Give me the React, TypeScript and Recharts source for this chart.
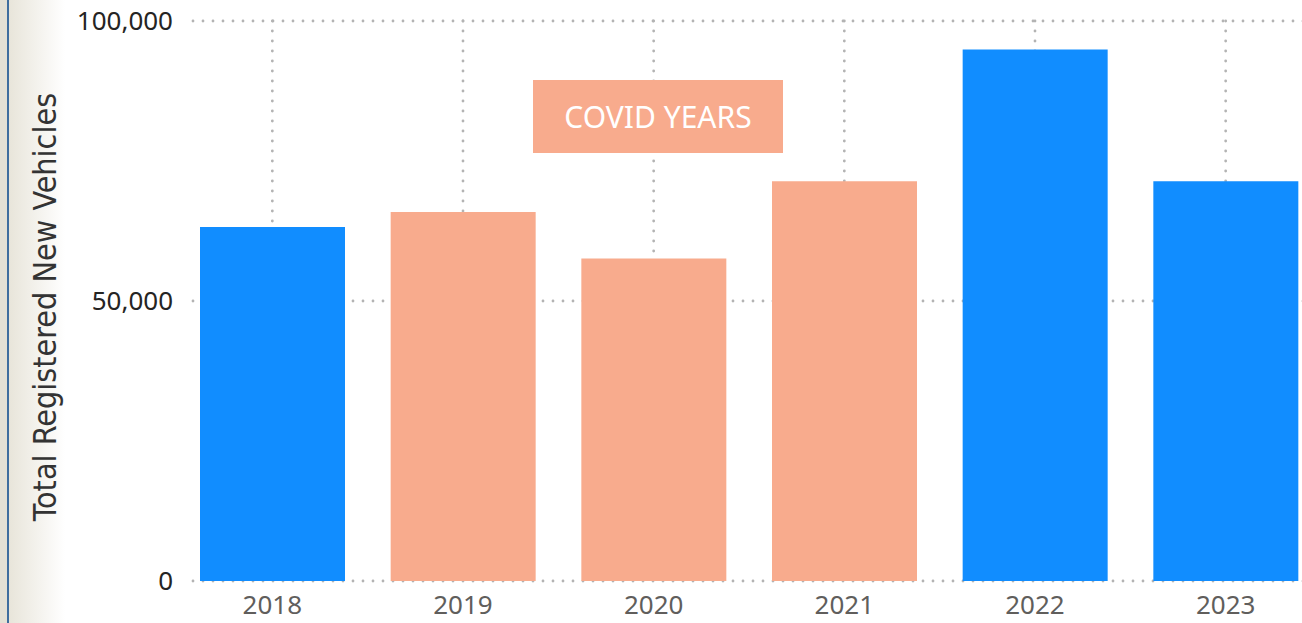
import React from "react";
import { BarChart, Bar, XAxis, YAxis, CartesianGrid, Cell } from "recharts";

const years = ["2018", "2019", "2020", "2021", "2022", "2023"];
const registrations = [63200, 65900, 57600, 71400, 94900, 71400];
const covidYears = ["2019", "2020", "2021"];
const yTicks = [0, 50000, 100000];

const data = years.map((year, i) => ({ year, total: registrations[i] }));

const BLUE = "#118DFF";
const SALMON = "#F8AB8D";
const FONT = "'Noto Sans', 'Open Sans', sans-serif";
const GRID = { stroke: "#B3B3B3", strokeWidth: 2.8, strokeDasharray: "0 10", strokeLinecap: "round" as const };

const AxisTitle = () => (
  <text
    x={45}
    y={307}
    transform="rotate(-90 45 307)"
    textAnchor="middle"
    dominantBaseline="central"
    fill="#333333"
    fontSize={32}
    fontWeight={500}
    fontFamily="'DejaVu Sans Condensed', 'DejaVu Sans', sans-serif"
  >
    Total Registered New Vehicles
  </text>
);

// vertical grid lines only at the centre of each year band
const centreLines = ({ offset }: any) => {
  const band = offset.width / years.length;
  return years.map((_, i) => offset.left + band * (i + 0.5));
};

export default function App() {
  return (
    <div
      style={{
        position: "absolute",
        left: 0,
        top: 0,
        width: 1302,
        height: 623,
        overflow: "hidden",
        background: "#fff",
        fontFamily: FONT,
      }}
    >
      {/* window frame strip on the left */}
      <div style={{ position: "absolute", left: 0, top: 0, width: 7, height: 623, background: "#E4E1D5" }} />
      <div style={{ position: "absolute", left: 7, top: 0, width: 2, height: 623, background: "#3F6E9E" }} />
      <div
        style={{
          position: "absolute",
          left: 9,
          top: 0,
          width: 56,
          height: 623,
          background: "linear-gradient(to right, #E8E5DA, #ffffff)",
        }}
      />
      <div style={{ position: "absolute", left: 0, top: 0 }}>
        <BarChart
          width={1326}
          height={623}
          data={data}
          margin={{ top: 21, right: 5, bottom: 0, left: 77 }}
          barSize={145}
        >
          <CartesianGrid
            horizontal={false}
            vertical
            verticalCoordinatesGenerator={centreLines}
            {...GRID}
          />
          <CartesianGrid vertical={false} horizontal x={193} width={1133} {...GRID} />
          <XAxis
            dataKey="year"
            axisLine={false}
            tickLine={false}
            tickSize={0}
            tickMargin={15}
            height={42}
            tick={{ fill: "#605E5C", fontSize: 26, fontFamily: FONT }}
          />
          <YAxis
            width={100}
            domain={[0, 100000]}
            ticks={yTicks}
            axisLine={false}
            tickLine={false}
            tickSize={0}
            tickMargin={4}
            tickFormatter={(v: number) => v.toLocaleString("en-US")}
            tick={{ fill: "#252423", fontSize: 26, fontFamily: FONT }}
            label={<AxisTitle />}
          />
          <Bar dataKey="total" isAnimationActive={false}>
            {data.map((d) => (
              <Cell key={d.year} fill={covidYears.includes(d.year) ? SALMON : BLUE} />
            ))}
          </Bar>
        </BarChart>
      </div>
      <div
        style={{
          position: "absolute",
          left: 533,
          top: 80,
          width: 250,
          height: 73,
          background: SALMON,
          color: "#fff",
          fontSize: 30,
          fontWeight: 400,
          display: "flex",
          alignItems: "center",
          justifyContent: "center",
        }}
      >
        COVID YEARS
      </div>
    </div>
  );
}
